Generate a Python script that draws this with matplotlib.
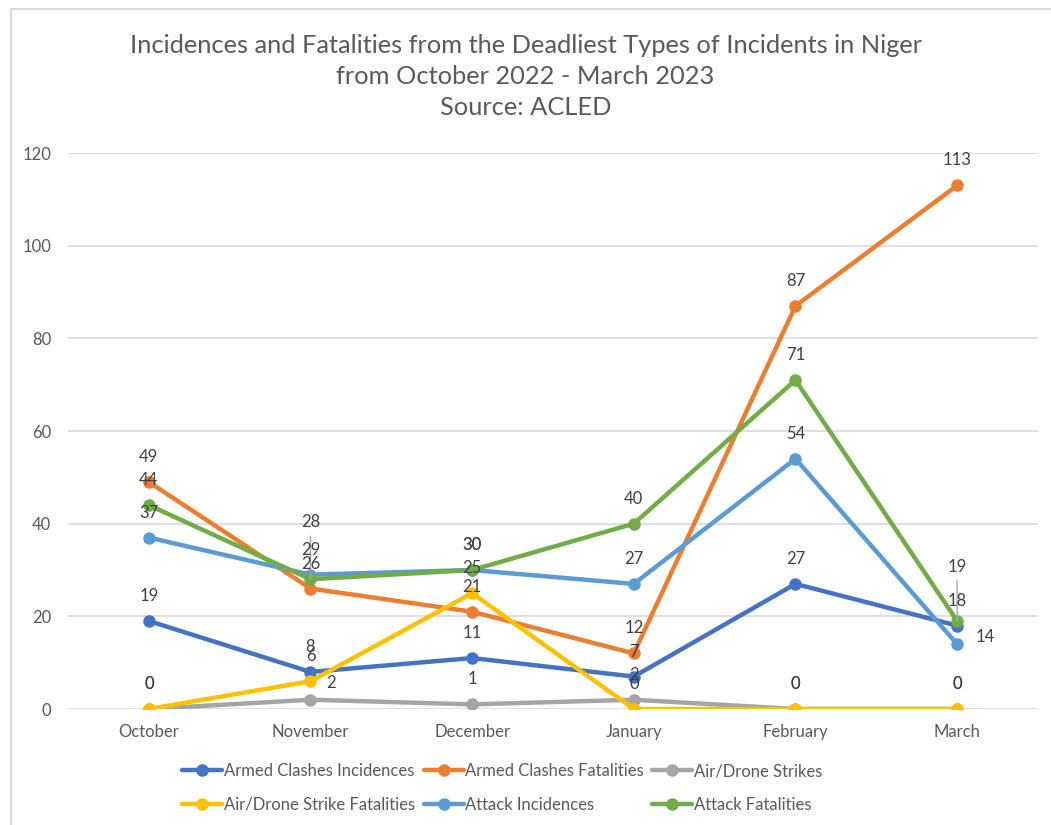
import matplotlib
matplotlib.use("Agg")
import matplotlib.pyplot as plt
from matplotlib.patches import Rectangle

plt.rcParams['font.family'] = ['Lato', 'DejaVu Sans']

months = ["October", "November", "December", "January", "February", "March"]

armed_inc = [19, 8, 11, 7, 27, 18]
armed_fat = [49, 26, 21, 12, 87, 113]
air_strikes = [0, 2, 1, 2, 0, 0]
air_fat = [0, 6, 25, 0, 0, 0]
attack_inc = [37, 29, 30, 27, 54, 14]
attack_fat = [44, 28, 30, 40, 71, 19]

series = [
    ("Armed Clashes Incidences", armed_inc, "#4472C4"),
    ("Armed Clashes Fatalities", armed_fat, "#ED7D31"),
    ("Air/Drone Strikes", air_strikes, "#A5A5A5"),
    ("Air/Drone Strike Fatalities", air_fat, "#FFC000"),
    ("Attack Incidences", attack_inc, "#5B9BD5"),
    ("Attack Fatalities", attack_fat, "#70AD47"),
]

# label offsets in points (dx, dy); default is straight above the marker
offsets = {
    (2, 1): (11, 12),     # Air/Drone Strikes, November
    (5, 1): (0, 41),      # Attack Fatalities, November (with leader)
    (5, 5): (0, 39),      # Attack Fatalities, March (with leader)
    (4, 5): (13, 5),      # Attack Incidences, March
}
leaders = {(5, 1), (5, 5)}

fig = plt.figure(figsize=(10.51, 8.25), dpi=100)
ax = fig.add_axes([0.0647, 0.1406, 0.9229, 0.6739])

x = list(range(len(months)))
handles = []
for i, (name, vals, col) in enumerate(series):
    ln, = ax.plot(x, vals, color=col, lw=3.2, marker='o', ms=8, label=name,
                  zorder=3 + i, solid_capstyle='round')
    handles.append(ln)

for i, (name, vals, col) in enumerate(series):
    for j, v in enumerate(vals):
        dx, dy = offsets.get((i, j), (0, 18))
        ha = 'left' if dx > 0 else 'center'
        ax.annotate(str(v), (j, v), xytext=(dx, dy), textcoords='offset points',
                    ha=ha, va='center', fontsize=12, color='#404040', zorder=20)
        if (i, j) in leaders:
            ax.annotate("", (j, v), xytext=(0, dy - 10), textcoords='offset points',
                        arrowprops=dict(arrowstyle='-', color='#A6A6A6', lw=1,
                                        shrinkA=0, shrinkB=0), zorder=19)

ax.set_xlim(-0.5, 5.5)
ax.set_ylim(0, 120)
ax.set_yticks(range(0, 121, 20))
ax.set_xticks(x)
ax.set_xticklabels(months)
ax.grid(axis='y', color='#D9D9D9', lw=1.2)
ax.set_axisbelow(True)
for s in ax.spines.values():
    s.set_visible(False)
ax.tick_params(length=0, labelsize=12, labelcolor='#595959')
ax.tick_params(axis='y', pad=12)
ax.tick_params(axis='x', pad=11)

fig.text(0.5, 0.907, "Incidences and Fatalities from the Deadliest Types of Incidents in Niger\n"
         "from October 2022 - March 2023\nSource: ACLED",
         ha='center', va='center', fontsize=18.3, color='#595959', linespacing=1.42)

# legend fills row by row
order = [0, 3, 1, 4, 2, 5]
leg = fig.legend([handles[k] for k in order], [series[k][0] for k in order],
                 loc='center', bbox_to_anchor=(0.478, 0.045), ncol=3, frameon=False,
                 fontsize=12, handlelength=2.4, handletextpad=0.1,
                 columnspacing=0.5, labelspacing=1.05)
for t in leg.get_texts():
    t.set_color('#595959')

fig.patches.append(Rectangle((11 / 1051, -0.02), 1.1, 1 - 9 / 825 + 0.02,
                             transform=fig.transFigure, fill=False,
                             edgecolor='#D9D9D9', lw=1.5))

fig.savefig("out.png", dpi=100)
